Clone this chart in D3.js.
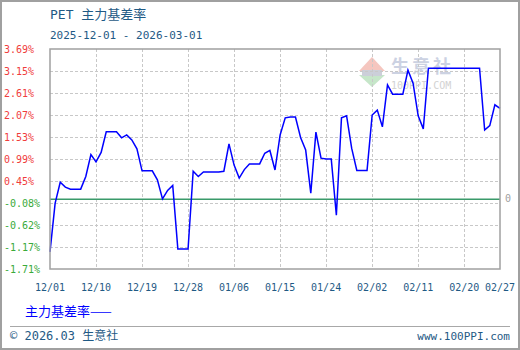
<!DOCTYPE html>
<html>
<head>
<meta charset="utf-8">
<script src="https://cdn.jsdelivr.net/npm/d3@7"></script>
<style>
  body { margin: 0; background: #fff; }
  svg text { font-family: "DejaVu Sans Mono", "Noto Sans CJK SC", monospace; }
</style>
</head>
<body>
<div id="chartCtn"></div>
<script>
// chart data
var startDate = "2025-12-01";
var endDate = "2026-02-27";
var tickLabels = [ "12/01", "12/10", "12/19", "12/28", "01/06", "01/15", "01/24", "02/02", "02/11", "02/20", "02/27" ];
var tickDates = [ "2025-12-01", "2025-12-10", "2025-12-19", "2025-12-28", "2026-01-06", "2026-01-15",
	"2026-01-24", "2026-02-02", "2026-02-11", "2026-02-20", "2026-02-27" ];
var yTicks = [ 3.69, 3.15, 2.61, 2.07, 1.53, 0.99, 0.45, -0.08, -0.62, -1.17, -1.71 ];
// 主力基差率, one value per calendar day (%)
var basisRate = [
	-1.29, -0.10, 0.42, 0.30, 0.25, 0.25, 0.25, 0.56, 1.10, 0.92,
	1.15, 1.66, 1.66, 1.66, 1.51, 1.58, 1.46, 1.24, 0.70, 0.70,
	0.70, 0.48, 0.01, 0.22, 0.34, -1.22, -1.22, -1.22, 0.69, 0.56,
	0.67, 0.67, 0.67, 0.67, 0.69, 1.36, 0.84, 0.52, 0.73, 0.87,
	0.87, 0.87, 1.13, 1.20, 0.72, 1.58, 2.00, 2.02, 2.02, 1.52,
	1.21, 0.15, 1.65, 1.01, 0.99, 0.99, -0.39, 2.00, 2.05, 1.25,
	0.71, 0.71, 0.71, 2.07, 2.19, 1.78, 2.81, 2.58, 2.58, 2.58,
	3.17, 2.85, 2.05, 1.73, 3.22, 3.22, 3.22, 3.22, 3.22, 3.22,
	3.22, 3.22, 3.22, 3.22, 3.22, 1.70, 1.81, 2.32, 2.23
];
var seriesName = "主力基差率";

( function () {
	var width = 520, height = 350;
	var plotLeft = 50, plotRight = 500, plotTop = 49, plotBottom = 269;
	var parse = d3.utcParse( "%Y-%m-%d" );
	var days = d3.utcDay.range( parse( startDate ), d3.utcDay.offset( parse( endDate ), 1 ) );
	var data = days.map( ( d, i ) => ( { date: d, value: basisRate[i] } ) );

	var xScale = d3.scaleUtc()
		.domain( [ parse( startDate ), parse( endDate ) ] )
		.range( [ plotLeft, plotRight ] );
	var yScale = d3.scaleLinear()
		.domain( [ -1.71, 3.69 ] )
		.range( [ plotBottom, plotTop ] );

	var svg = d3.select( "#chartCtn" )
		.append( "svg" )
		.attr( "width", width )
		.attr( "height", height );

	// outer frame
	svg.append( "rect" )
		.attr( "x", 1 ).attr( "y", 1 )
		.attr( "width", width - 2 ).attr( "height", height - 2 )
		.attr( "fill", "#fff" )
		.attr( "stroke", "#a0a0a0" )
		.attr( "stroke-width", 2 );

	// title
	svg.append( "text" )
		.attr( "x", 50 ).attr( "y", 19 )
		.attr( "fill", "#1f5a85" )
		.style( "font-size", "13px" )
		.text( "PET 主力基差率" );
	svg.append( "text" )
		.attr( "x", 50 ).attr( "y", 39 )
		.attr( "fill", "#1f5a85" )
		.style( "font-size", "11px" )
		.text( "2025-12-01 - 2026-03-01" );

	// watermark
	var wm = svg.append( "g" ).attr( "opacity", 0.8 );
	wm.append( "path" )
		.attr( "d", "M372,57 L385,71 L359,71 Z" )
		.attr( "fill", "#f3b8b0" );
	wm.append( "path" )
		.attr( "d", "M359,75 L385,75 L372,87 Z" )
		.attr( "fill", "#b8e0bc" );
	wm.append( "rect" )
		.attr( "x", 362 ).attr( "y", 70 ).attr( "width", 20 ).attr( "height", 6 )
		.attr( "fill", "#c0c4d0" );
	wm.append( "text" )
		.attr( "x", 391 ).attr( "y", 73 )
		.attr( "fill", "#c0c7dc" )
		.style( "font-size", "18px" )
		.style( "font-family", "Noto Sans CJK SC" )
		.style( "font-weight", "bold" )
		.style( "letter-spacing", "3px" )
		.text( "生意社" );
	wm.append( "text" )
		.attr( "x", 391 ).attr( "y", 89 )
		.attr( "fill", "#c8c8c8" )
		.style( "font-size", "10px" )
		.text( "100PPI.COM" );

	// grid
	svg.append( "g" )
		.selectAll( "line" )
		.data( yTicks.slice( 1, -1 ) )
		.enter()
		.append( "line" )
		.attr( "x1", plotLeft ).attr( "x2", plotRight )
		.attr( "y1", d => Math.round( yScale( d ) ) + 0.5 )
		.attr( "y2", d => Math.round( yScale( d ) ) + 0.5 )
		.attr( "stroke", "#c8c8c8" )
		.attr( "stroke-dasharray", "3,2" );
	svg.append( "g" )
		.selectAll( "line" )
		.data( tickDates.slice( 1, -1 ) )
		.enter()
		.append( "line" )
		.attr( "x1", d => Math.round( xScale( parse( d ) ) ) + 0.5 )
		.attr( "x2", d => Math.round( xScale( parse( d ) ) ) + 0.5 )
		.attr( "y1", plotTop ).attr( "y2", plotBottom )
		.attr( "stroke", "#c8c8c8" )
		.attr( "stroke-dasharray", "3,2" );

	// zero line
	svg.append( "line" )
		.attr( "x1", plotLeft ).attr( "x2", plotRight )
		.attr( "y1", yScale( 0 ) ).attr( "y2", yScale( 0 ) )
		.attr( "stroke", "#3a9a6a" )
		.attr( "stroke-width", 1.5 );
	svg.append( "text" )
		.attr( "x", 505 ).attr( "y", yScale( 0 ) + 3 )
		.attr( "fill", "#a0a0a0" )
		.style( "font-size", "10px" )
		.text( "0" );

	// series
	var line = d3.line()
		.x( d => xScale( d.date ) )
		.y( d => yScale( d.value ) );
	svg.append( "path" )
		.datum( data )
		.attr( "d", line )
		.attr( "fill", "none" )
		.attr( "stroke", "#0000ff" )
		.attr( "stroke-width", 1.5 );

	// plot border
	svg.append( "rect" )
		.attr( "x", plotLeft ).attr( "y", plotTop )
		.attr( "width", plotRight - plotLeft ).attr( "height", plotBottom - plotTop )
		.attr( "fill", "none" )
		.attr( "stroke", "#a0a0a0" )
		.attr( "stroke-width", 1.5 );

	// y axis labels
	svg.append( "g" )
		.selectAll( "text" )
		.data( yTicks )
		.enter()
		.append( "text" )
		.attr( "x", 4 )
		.attr( "y", d => yScale( d ) + 4 )
		.attr( "fill", d => d >= 0 ? "#f03c3c" : "#3aaa3a" )
		.style( "font-size", "10px" )
		.text( d => d.toFixed( 2 ) + "%" );

	// x axis labels
	svg.append( "g" )
		.selectAll( "text" )
		.data( tickDates )
		.enter()
		.append( "text" )
		.attr( "x", d => xScale( parse( d ) ) )
		.attr( "y", 291 )
		.attr( "text-anchor", "middle" )
		.attr( "fill", "#1f5a85" )
		.style( "font-size", "10px" )
		.text( ( d, i ) => tickLabels[i] );

	// legend
	svg.append( "text" )
		.attr( "x", 25 ).attr( "y", 316 )
		.attr( "fill", "#0000ff" )
		.style( "font-size", "13px" )
		.style( "font-family", "Noto Sans CJK SC" )
		.text( seriesName + "——" );

	// footer
	svg.append( "line" )
		.attr( "x1", 10 ).attr( "x2", 510 )
		.attr( "y1", 326.5 ).attr( "y2", 326.5 )
		.attr( "stroke", "#a8a8a8" );
	svg.append( "text" )
		.attr( "x", 10 ).attr( "y", 340 )
		.attr( "fill", "#1f5a85" )
		.style( "font-size", "12px" )
		.text( "© 2026.03 生意社" );
	svg.append( "text" )
		.attr( "x", 510 ).attr( "y", 340 )
		.attr( "text-anchor", "end" )
		.attr( "fill", "#1f5a85" )
		.style( "font-size", "11px" )
		.text( "www.100PPI.com" );
} )();
</script>
</body>
</html>
